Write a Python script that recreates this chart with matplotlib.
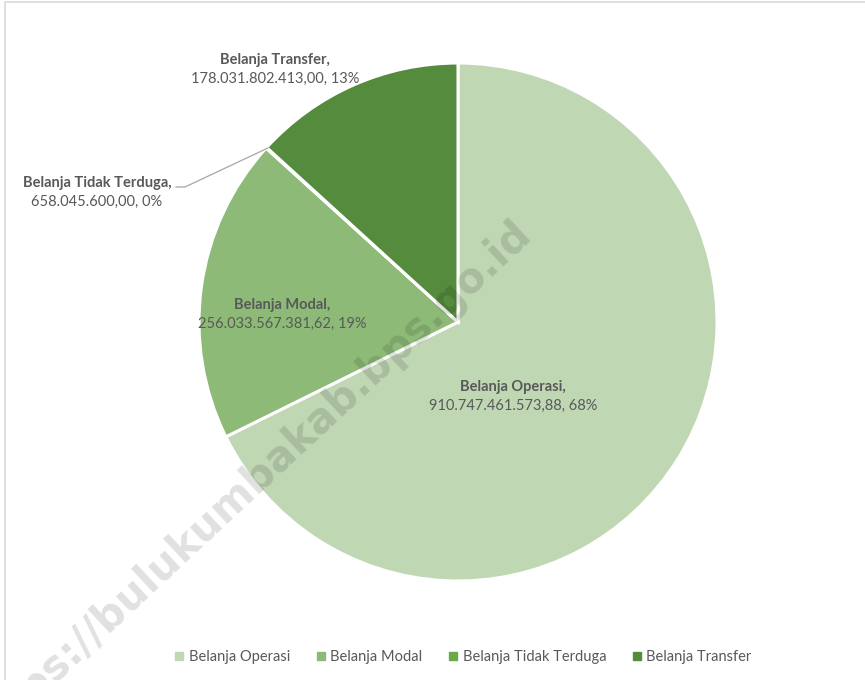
import matplotlib.pyplot as plt
from matplotlib.lines import Line2D

# Komposisi belanja daerah
categories = ['Belanja Operasi', 'Belanja Modal', 'Belanja Tidak Terduga', 'Belanja Transfer']
values = [910747461573.88, 256033567381.62, 658045600.00, 178031802413.00]
value_text = ['910.747.461.573,88', '256.033.567.381,62', '658.045.600,00', '178.031.802.413,00']
colors = ['#C0D7B4', '#8DBB77', '#6AA946', '#548B3C']

W, H = 865, 680
plt.rcParams['font.family'] = ['Lato', 'DejaVu Sans']
fig = plt.figure(figsize=(W / 100, H / 100), dpi=100)
ax = fig.add_axes([0, 0, 1, 1])

# pie in pixel coordinates (y measured from bottom)
ax.pie(values, colors=colors, startangle=90, counterclock=False,
       center=(458, H - 322), radius=259,
       wedgeprops=dict(edgecolor='white', linewidth=2.2))
ax.set_xlim(0, W)
ax.set_ylim(0, H)
ax.set_aspect('equal')
ax.axis('off')

# frame of the chart area
ax.plot([5, 5, W], [0, H - 2, H - 2], color='#D9D9D9', lw=1.2, clip_on=False)

# watermark
ax.text(533, H - 236, 'https://bulukumbakab.bps.go.id', rotation=43,
        rotation_mode='anchor', ha='right', va='baseline', fontsize=30,
        fontweight='bold', family='DejaVu Sans',
        color='black', alpha=0.12, zorder=3)

pct = [round(v / sum(values) * 100) for v in values]
label_pos = [(513, 387), (282, 305), (97, 183), (275, 60)]
fs = 10.5
for i, (x, y) in enumerate(label_pos):
    ax.text(x, H - y, categories[i] + ',', ha='center', va='center', fontsize=fs,
            fontweight='bold', color='#595959', zorder=5)
    ax.text(x, H - y - 19, f'{value_text[i]}, {pct[i]}%', ha='center', va='center',
            fontsize=fs, color='#595959', zorder=5)

# leader line for the tiny slice
ax.plot([176, 185, 268], [H - 187, H - 187, H - 148], color='#A6A6A6', lw=0.9, zorder=4)

handles = [Line2D([], [], marker='s', linestyle='none', markersize=5.5,
                  markerfacecolor=c, markeredgecolor=c) for c in colors]
fig.legend(handles, categories, loc='center', bbox_to_anchor=(463 / W, 1 - 657 / H),
           ncol=4, frameon=False, handlelength=0.7, handletextpad=0.3,
           columnspacing=1.75, fontsize=fs, labelcolor='#595959')

fig.savefig('out.png', dpi=100)
